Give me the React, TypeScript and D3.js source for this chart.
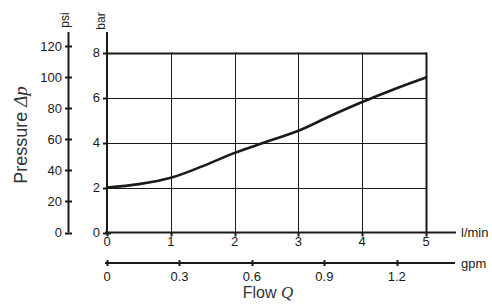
import React from "react";
import * as d3 from "d3";

const flowLpm = [0, 0.5, 1, 1.5, 2, 2.5, 3, 3.5, 4, 4.5, 5];
const pressureBar = [2.0, 2.15, 2.43, 2.95, 3.54, 4.03, 4.52, 5.18, 5.8, 6.37, 6.89];
const lpmTicks = [0, 1, 2, 3, 4, 5];
const gpmTicks = [0, 0.3, 0.6, 0.9, 1.2];
const barTicks = [0, 2, 4, 6, 8];
const psiTicks = [0, 20, 40, 60, 80, 100, 120];

const PSI_PER_BAR = 14.5038;
const LPM_PER_GPM = 3.78541;

export default function App() {
  const x = d3.scaleLinear().domain([0, 5]).range([107, 426]);
  const y = d3.scaleLinear().domain([0, 8]).range([232.5, 52.5]);
  const yPsi = (v: number) => y(v / PSI_PER_BAR);
  const xGpm = (v: number) => x(v * LPM_PER_GPM);

  const line = d3
    .line<number>()
    .x((_, i) => x(flowLpm[i]))
    .y((d) => y(d))
    .curve(d3.curveMonotoneX);

  const font = "'Liberation Sans', Arial, sans-serif";
  const serif = "'Liberation Serif', 'Times New Roman', serif";
  const ink = "#1a1a1a";
  const psiX = 68.5;
  const barX = 107;
  const gpmY = 263;
  const xAxisY = 232.5;

  return (
    <svg
      width={492}
      height={307}
      style={{ position: "absolute", left: 0, top: 0, background: "#fff" }}
    >
      {/* grid */}
      {lpmTicks.slice(1).map((t) => (
        <line
          key={"vg" + t}
          x1={Math.round(x(t)) + 0.5}
          x2={Math.round(x(t)) + 0.5}
          y1={y(8)}
          y2={xAxisY}
          stroke={ink}
          strokeWidth={t === 5 ? 2 : 1}
        />
      ))}
      {barTicks.slice(1).map((t) => (
        <line
          key={"hg" + t}
          x1={barX}
          x2={x(5) + 1}
          y1={Math.round(y(t)) + 0.5}
          y2={Math.round(y(t)) + 0.5}
          stroke={ink}
          strokeWidth={t === 8 ? 2 : 1}
        />
      ))}

      {/* curve */}
      <path
        d={line(pressureBar) || ""}
        fill="none"
        stroke="#1a1a1a"
        strokeWidth={2.6}
        strokeLinejoin="round"
        strokeLinecap="round"
      />

      {/* psi axis */}
      <line x1={psiX} x2={psiX} y1={32} y2={yPsi(0)} stroke={ink} strokeWidth={2} />
      {psiTicks.map((t) => (
        <g key={"psi" + t}>
          <line
            x1={psiX - 3.5}
            x2={psiX + 3.5}
            y1={Math.round(yPsi(t)) + 0.5}
            y2={Math.round(yPsi(t)) + 0.5}
            stroke={ink}
            strokeWidth={2}
          />
          <text
            x={62}
            y={yPsi(t)}
            dy="0.36em"
            textAnchor="end"
            fontFamily={font}
            fontSize={13}
            fill={ink}
          >
            {t}
          </text>
        </g>
      ))}
      <text
        transform={`translate(68.5,20) rotate(-90)`}
        textAnchor="middle"
        fontFamily={font}
        fontSize={12}
        fill={ink}
      >
        psi
      </text>

      {/* bar axis */}
      <line x1={barX} x2={barX} y1={32} y2={xAxisY + 1} stroke={ink} strokeWidth={2} />
      {barTicks.map((t) => (
        <g key={"bar" + t}>
          <line
            x1={barX - 4}
            x2={t === 0 ? barX + 4 : barX}
            y1={Math.round(y(t)) + 0.5}
            y2={Math.round(y(t)) + 0.5}
            stroke={ink}
            strokeWidth={2}
          />
          <text
            x={100}
            y={y(t)}
            dy="0.36em"
            textAnchor="end"
            fontFamily={font}
            fontSize={13}
            fill={ink}
          >
            {t}
          </text>
        </g>
      ))}
      <text
        transform={`translate(105,21) rotate(-90)`}
        textAnchor="middle"
        fontFamily={font}
        fontSize={12}
        fill={ink}
      >
        bar
      </text>

      {/* pressure label */}
      <text
        transform={`translate(27,135) rotate(-90)`}
        textAnchor="middle"
        fontFamily={font}
        fontSize={18}
        fill="#333"
      >
        Pressure{" "}
        <tspan fontFamily={serif} fontStyle="italic" fontSize={19}>
          Δp
        </tspan>
      </text>

      {/* l/min axis */}
      <line x1={105} x2={456} y1={xAxisY} y2={xAxisY} stroke={ink} strokeWidth={2} />
      {lpmTicks.map((t) => (
        <g key={"lpm" + t}>
          <line
            x1={Math.round(x(t)) + 0.5}
            x2={Math.round(x(t)) + 0.5}
            y1={xAxisY}
            y2={xAxisY + 4}
            stroke={ink}
            strokeWidth={2}
          />
          <text
            x={x(t)}
            y={246}
            textAnchor="middle"
            fontFamily={font}
            fontSize={13}
            fill={ink}
          >
            {t}
          </text>
        </g>
      ))}
      <text x={461} y={xAxisY} dy="0.36em" fontFamily={font} fontSize={13} fill={ink}>
        l/min
      </text>

      {/* gpm axis */}
      <line x1={105} x2={455} y1={gpmY} y2={gpmY} stroke={ink} strokeWidth={2} />
      {gpmTicks.map((t) => (
        <g key={"gpm" + t}>
          <line
            x1={Math.round(xGpm(t)) + 0.5}
            x2={Math.round(xGpm(t)) + 0.5}
            y1={gpmY - 3}
            y2={gpmY + 3}
            stroke={ink}
            strokeWidth={2}
          />
          <text
            x={xGpm(t)}
            y={281}
            textAnchor="middle"
            fontFamily={font}
            fontSize={13}
            fill={ink}
          >
            {t}
          </text>
        </g>
      ))}
      <text x={461} y={gpmY} dy="0.36em" fontFamily={font} fontSize={13} fill={ink}>
        gpm
      </text>

      {/* flow label */}
      <text
        x={268}
        y={297.5}
        textAnchor="middle"
        fontFamily={font}
        fontSize={16}
        fill="#333"
      >
        Flow{" "}
        <tspan fontFamily={serif} fontStyle="italic" fontSize={17}>
          Q
        </tspan>
      </text>
    </svg>
  );
}
